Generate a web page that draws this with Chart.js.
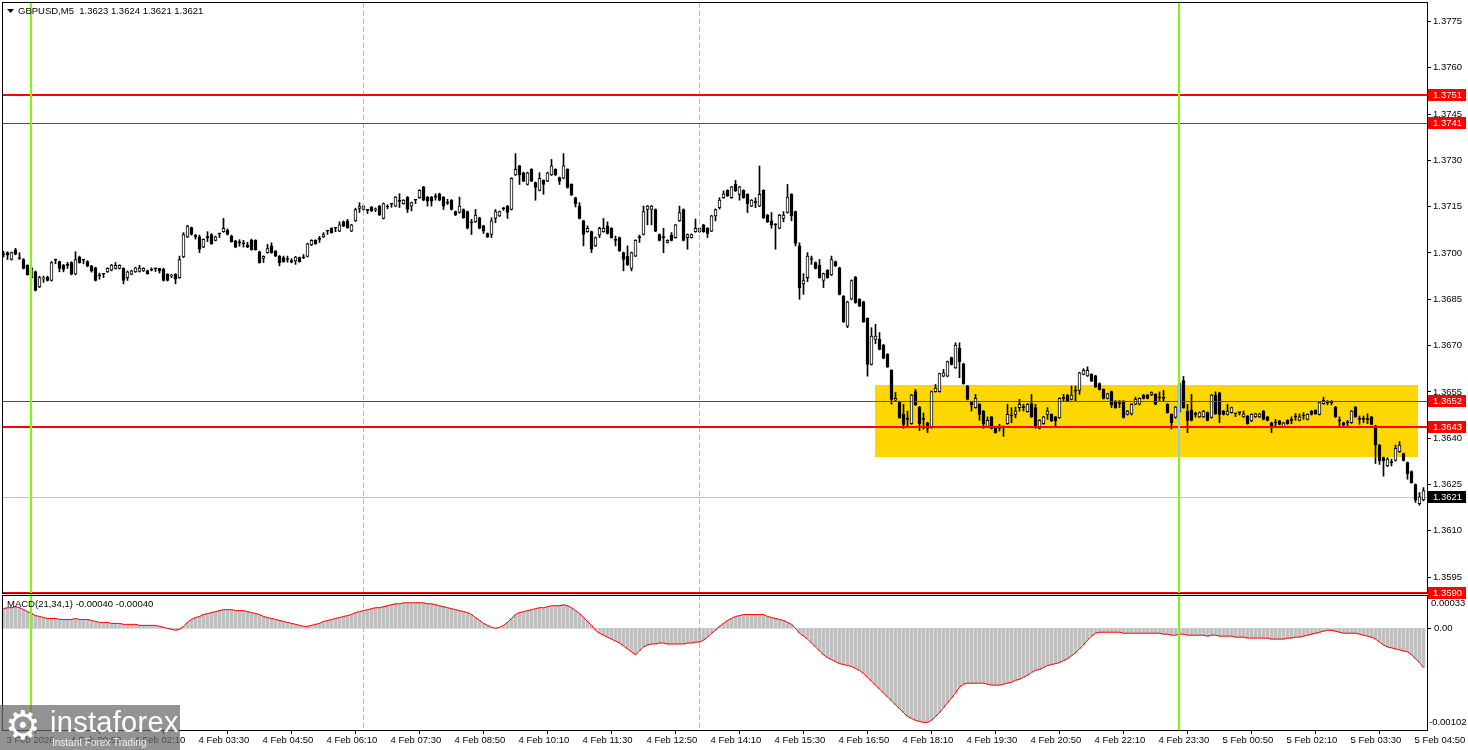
<!DOCTYPE html>
<html>
<head>
<meta charset="utf-8">
<script src="https://cdn.jsdelivr.net/npm/chart.js@4.4.1/dist/chart.umd.min.js"></script>
<style>
  html, body { margin: 0; padding: 0; background: #fff; }
  #wrap { position: relative; width: 1468px; height: 750px; overflow: hidden; }
  #logo { position: absolute; left: 0; top: 705px; width: 180px; height: 45px; background: rgba(105,105,105,0.72); color: #fff; font-family: 'Liberation Sans', Arial, sans-serif; }
  #logo .gear { position: absolute; left: 5px; top: -4px; font-family: 'DejaVu Sans', sans-serif; font-size: 40px; line-height: 48px; }
  #logo .name { position: absolute; left: 50px; top: 1px; font-size: 29px; line-height: 32px; letter-spacing: 0.3px; }
  #logo .sub { position: absolute; left: 52px; top: 32px; font-size: 10px; line-height: 12px; color: #eee; }
</style>
</head>
<body>
<div id="wrap">
  <canvas id="chart" width="1468" height="750"></canvas>
  <div id="logo"><span class="gear">⚙</span><span class="name">instaforex</span><span class="sub">Instant Forex Trading</span></div>
</div>
<script>
// GBPUSD M5, one row per candle: open, high, low, close
const candles = [
  [1.36997,1.37006,1.36987,1.36995],[1.37001,1.37004,1.36979,1.36993],[1.36979,1.37003,1.36977,1.37001],[1.37010,1.37015,1.36994,1.36996],[1.36985,1.37001,1.36979,1.36982],
  [1.36979,1.36982,1.36948,1.36950],[1.36960,1.36962,1.36928,1.36930],[1.36920,1.36955,1.36918,1.36950],[1.36939,1.36942,1.36877,1.36879],[1.36890,1.36925,1.36888,1.36920],
  [1.36916,1.36925,1.36905,1.36917],[1.36922,1.36925,1.36909,1.36911],[1.36911,1.36972,1.36909,1.36969],[1.36979,1.36980,1.36965,1.36977],[1.36972,1.36974,1.36939,1.36950],
  [1.36961,1.36963,1.36939,1.36947],[1.36960,1.36970,1.36950,1.36960],[1.36969,1.36972,1.36929,1.36931],[1.36931,1.37004,1.36929,1.36979],[1.36987,1.36990,1.36967,1.36969],
  [1.36977,1.36978,1.36965,1.36977],[1.36972,1.36975,1.36955,1.36958],[1.36958,1.36960,1.36938,1.36942],[1.36952,1.36954,1.36909,1.36911],[1.36926,1.36935,1.36915,1.36926],
  [1.36931,1.36932,1.36920,1.36931],[1.36939,1.36952,1.36937,1.36950],[1.36944,1.36963,1.36942,1.36961],[1.36950,1.36969,1.36948,1.36960],[1.36950,1.36962,1.36948,1.36960],
  [1.36950,1.36952,1.36900,1.36911],[1.36920,1.36942,1.36911,1.36939],[1.36931,1.36944,1.36929,1.36942],[1.36939,1.36954,1.36937,1.36952],[1.36940,1.36960,1.36938,1.36951],
  [1.36942,1.36952,1.36940,1.36950],[1.36942,1.36945,1.36931,1.36933],[1.36945,1.36952,1.36942,1.36944],[1.36950,1.36951,1.36940,1.36949],[1.36950,1.36951,1.36935,1.36942],
  [1.36947,1.36951,1.36909,1.36911],[1.36931,1.36933,1.36909,1.36911],[1.36925,1.36931,1.36920,1.36926],[1.36931,1.36933,1.36900,1.36915],[1.36920,1.36990,1.36918,1.36979],
  [1.36987,1.37066,1.36985,1.37060],[1.37052,1.37090,1.37050,1.37087],[1.37082,1.37084,1.37058,1.37060],[1.37055,1.37060,1.37045,1.37053],[1.37052,1.37058,1.37001,1.37012],
  [1.37019,1.37046,1.37017,1.37044],[1.37050,1.37069,1.37037,1.37050],[1.37060,1.37063,1.37028,1.37030],[1.37041,1.37055,1.37039,1.37052],[1.37062,1.37063,1.37050,1.37062],
  [1.37069,1.37112,1.37067,1.37080],[1.37073,1.37078,1.37058,1.37060],[1.37055,1.37058,1.37035,1.37037],[1.37039,1.37041,1.37017,1.37019],[1.37033,1.37043,1.37022,1.37033],
  [1.37030,1.37041,1.37019,1.37030],[1.37026,1.37035,1.37017,1.37019],[1.37041,1.37045,1.37009,1.37011],[1.37041,1.37043,1.37009,1.37011],[1.37004,1.37006,1.36967,1.36969],
  [1.36982,1.36991,1.36969,1.36989],[1.37001,1.37028,1.36999,1.37014],[1.37023,1.37033,1.36999,1.37001],[1.37006,1.37008,1.36988,1.36990],[1.36990,1.36992,1.36958,1.36969],
  [1.36985,1.36990,1.36970,1.36972],[1.36979,1.36990,1.36970,1.36979],[1.36975,1.36982,1.36968,1.36970],[1.36974,1.36989,1.36963,1.36987],[1.36985,1.36987,1.36970,1.36972],
  [1.36985,1.36995,1.36982,1.36984],[1.36989,1.37032,1.36987,1.37030],[1.37026,1.37043,1.37024,1.37041],[1.37041,1.37043,1.37028,1.37030],[1.37044,1.37054,1.37034,1.37044],
  [1.37052,1.37066,1.37050,1.37060],[1.37071,1.37072,1.37060,1.37071],[1.37080,1.37082,1.37064,1.37066],[1.37080,1.37081,1.37069,1.37080],[1.37071,1.37101,1.37069,1.37091],
  [1.37101,1.37104,1.37085,1.37087],[1.37104,1.37109,1.37080,1.37082],[1.37071,1.37093,1.37069,1.37091],[1.37104,1.37145,1.37102,1.37141],[1.37144,1.37163,1.37131,1.37150],
  [1.37141,1.37154,1.37139,1.37152],[1.37138,1.37139,1.37128,1.37138],[1.37149,1.37151,1.37134,1.37136],[1.37140,1.37146,1.37134,1.37141],[1.37152,1.37154,1.37121,1.37123],
  [1.37112,1.37162,1.37110,1.37160],[1.37149,1.37156,1.37143,1.37149],[1.37158,1.37159,1.37148,1.37158],[1.37152,1.37183,1.37150,1.37181],[1.37169,1.37192,1.37147,1.37167],
  [1.37160,1.37173,1.37158,1.37171],[1.37181,1.37183,1.37131,1.37141],[1.37152,1.37165,1.37136,1.37163],[1.37171,1.37172,1.37160,1.37171],[1.37179,1.37205,1.37177,1.37203],
  [1.37214,1.37216,1.37169,1.37171],[1.37181,1.37183,1.37152,1.37168],[1.37181,1.37183,1.37152,1.37168],[1.37181,1.37192,1.37171,1.37181],[1.37192,1.37194,1.37169,1.37171],
  [1.37181,1.37183,1.37141,1.37152],[1.37163,1.37174,1.37157,1.37161],[1.37171,1.37173,1.37139,1.37141],[1.37134,1.37136,1.37121,1.37123],[1.37131,1.37181,1.37129,1.37152],
  [1.37141,1.37143,1.37112,1.37114],[1.37134,1.37136,1.37078,1.37080],[1.37098,1.37109,1.37060,1.37098],[1.37101,1.37141,1.37099,1.37123],[1.37114,1.37116,1.37078,1.37080],
  [1.37088,1.37090,1.37063,1.37071],[1.37063,1.37065,1.37050,1.37052],[1.37060,1.37114,1.37050,1.37104],[1.37112,1.37141,1.37098,1.37134],[1.37120,1.37136,1.37118,1.37134],
  [1.37143,1.37148,1.37138,1.37143],[1.37152,1.37154,1.37112,1.37131],[1.37141,1.37244,1.37139,1.37242],[1.37253,1.37322,1.37251,1.37271],[1.37282,1.37284,1.37222,1.37253],
  [1.37260,1.37262,1.37231,1.37233],[1.37222,1.37262,1.37220,1.37260],[1.37271,1.37273,1.37231,1.37233],[1.37228,1.37230,1.37171,1.37212],[1.37203,1.37260,1.37201,1.37242],
  [1.37235,1.37237,1.37190,1.37222],[1.37233,1.37262,1.37231,1.37260],[1.37253,1.37303,1.37251,1.37282],[1.37271,1.37273,1.37251,1.37253],[1.37244,1.37246,1.37222,1.37233],
  [1.37242,1.37322,1.37240,1.37282],[1.37271,1.37273,1.37210,1.37212],[1.37222,1.37224,1.37186,1.37188],[1.37179,1.37181,1.37149,1.37160],[1.37152,1.37163,1.37110,1.37112],
  [1.37104,1.37106,1.37023,1.37060],[1.37069,1.37088,1.37067,1.37080],[1.37069,1.37071,1.37001,1.37012],[1.37023,1.37052,1.37021,1.37050],[1.37058,1.37084,1.37050,1.37080],
  [1.37069,1.37112,1.37067,1.37080],[1.37088,1.37101,1.37061,1.37063],[1.37080,1.37082,1.37048,1.37050],[1.37041,1.37055,1.37023,1.37041],[1.37050,1.37052,1.37005,1.37007],
  [1.37001,1.37003,1.36942,1.36979],[1.36990,1.37023,1.36959,1.36961],[1.36950,1.37003,1.36942,1.37001],[1.36990,1.37043,1.36988,1.37041],[1.37050,1.37058,1.37034,1.37050],
  [1.37060,1.37152,1.37058,1.37134],[1.37141,1.37154,1.37091,1.37152],[1.37141,1.37154,1.37091,1.37152],[1.37141,1.37143,1.37069,1.37071],[1.37060,1.37062,1.37039,1.37041],
  [1.37050,1.37080,1.37001,1.37050],[1.37034,1.37043,1.37032,1.37041],[1.37058,1.37066,1.37039,1.37041],[1.37050,1.37093,1.37048,1.37091],[1.37104,1.37152,1.37102,1.37131],
  [1.37141,1.37143,1.37039,1.37041],[1.37050,1.37062,1.37012,1.37060],[1.37050,1.37062,1.37048,1.37060],[1.37069,1.37110,1.37067,1.37080],[1.37069,1.37082,1.37067,1.37080],
  [1.37091,1.37093,1.37067,1.37069],[1.37080,1.37082,1.37050,1.37063],[1.37071,1.37122,1.37069,1.37120],[1.37120,1.37143,1.37104,1.37141],[1.37147,1.37179,1.37142,1.37171],
  [1.37179,1.37201,1.37177,1.37192],[1.37203,1.37205,1.37183,1.37185],[1.37179,1.37216,1.37177,1.37214],[1.37222,1.37235,1.37199,1.37201],[1.37190,1.37216,1.37171,1.37214],
  [1.37203,1.37205,1.37177,1.37179],[1.37190,1.37192,1.37131,1.37160],[1.37152,1.37173,1.37150,1.37171],[1.37163,1.37179,1.37147,1.37163],[1.37152,1.37282,1.37150,1.37190],
  [1.37203,1.37205,1.37112,1.37114],[1.37123,1.37125,1.37099,1.37101],[1.37104,1.37131,1.37080,1.37091],[1.37093,1.37095,1.37012,1.37091],[1.37080,1.37125,1.37078,1.37123],
  [1.37112,1.37134,1.37101,1.37123],[1.37131,1.37222,1.37129,1.37181],[1.37190,1.37192,1.37104,1.37120],[1.37134,1.37136,1.37023,1.37031],[1.37023,1.37033,1.36850,1.36888],
  [1.36900,1.36933,1.36866,1.36911],[1.36920,1.37001,1.36907,1.36990],[1.36979,1.36990,1.36963,1.36979],[1.36969,1.36971,1.36948,1.36950],[1.36961,1.36979,1.36918,1.36920],
  [1.36911,1.36935,1.36888,1.36933],[1.36944,1.36946,1.36918,1.36920],[1.36929,1.36990,1.36927,1.36979],[1.36972,1.36974,1.36956,1.36958],[1.36952,1.36954,1.36864,1.36866],
  [1.36860,1.36862,1.36775,1.36777],[1.36763,1.36844,1.36758,1.36842],[1.36850,1.36913,1.36848,1.36911],[1.36922,1.36924,1.36837,1.36839],[1.36850,1.36852,1.36826,1.36828],
  [1.36842,1.36844,1.36775,1.36777],[1.36788,1.36790,1.36601,1.36639],[1.36639,1.36758,1.36637,1.36731],[1.36720,1.36769,1.36706,1.36731],[1.36720,1.36742,1.36686,1.36688],
  [1.36702,1.36704,1.36657,1.36659],[1.36672,1.36674,1.36629,1.36631],[1.36620,1.36622,1.36510,1.36526],[1.36523,1.36548,1.36521,1.36529],[1.36518,1.36520,1.36464,1.36466],
  [1.36477,1.36510,1.36432,1.36445],[1.36461,1.36488,1.36434,1.36461],[1.36447,1.36542,1.36445,1.36540],[1.36551,1.36558,1.36506,1.36508],[1.36501,1.36503,1.36425,1.36447],
  [1.36461,1.36482,1.36429,1.36461],[1.36450,1.36452,1.36418,1.36432],[1.36434,1.36553,1.36432,1.36551],[1.36551,1.36574,1.36549,1.36562],[1.36551,1.36611,1.36549,1.36609],
  [1.36601,1.36623,1.36599,1.36612],[1.36601,1.36650,1.36599,1.36648],[1.36661,1.36663,1.36637,1.36639],[1.36628,1.36709,1.36626,1.36702],[1.36691,1.36709,1.36596,1.36648],
  [1.36641,1.36643,1.36575,1.36577],[1.36569,1.36571,1.36524,1.36526],[1.36518,1.36520,1.36488,1.36508],[1.36499,1.36542,1.36497,1.36529],[1.36510,1.36512,1.36458,1.36477],
  [1.36488,1.36490,1.36432,1.36447],[1.36436,1.36469,1.36434,1.36458],[1.36469,1.36471,1.36430,1.36432],[1.36432,1.36434,1.36416,1.36418],[1.36432,1.36445,1.36423,1.36432],
  [1.36438,1.36440,1.36406,1.36436],[1.36447,1.36510,1.36445,1.36477],[1.36472,1.36499,1.36450,1.36472],[1.36477,1.36501,1.36466,1.36488],[1.36499,1.36526,1.36488,1.36510],
  [1.36499,1.36510,1.36488,1.36499],[1.36486,1.36512,1.36484,1.36510],[1.36512,1.36542,1.36467,1.36469],[1.36499,1.36510,1.36432,1.36434],[1.36432,1.36460,1.36430,1.36458],
  [1.36447,1.36471,1.36445,1.36469],[1.36477,1.36499,1.36461,1.36488],[1.36477,1.36479,1.36454,1.36456],[1.36469,1.36471,1.36439,1.36456],[1.36466,1.36531,1.36464,1.36529],
  [1.36529,1.36542,1.36520,1.36529],[1.36540,1.36542,1.36518,1.36520],[1.36526,1.36569,1.36524,1.36540],[1.36553,1.36569,1.36520,1.36553],[1.36555,1.36614,1.36542,1.36612],
  [1.36607,1.36625,1.36605,1.36620],[1.36602,1.36631,1.36600,1.36620],[1.36607,1.36609,1.36583,1.36585],[1.36602,1.36604,1.36564,1.36566],[1.36577,1.36579,1.36556,1.36558],
  [1.36558,1.36560,1.36527,1.36529],[1.36529,1.36546,1.36527,1.36544],[1.36551,1.36553,1.36499,1.36508],[1.36520,1.36522,1.36497,1.36499],[1.36512,1.36522,1.36499,1.36512],
  [1.36520,1.36522,1.36465,1.36467],[1.36477,1.36490,1.36475,1.36488],[1.36479,1.36512,1.36475,1.36510],[1.36510,1.36533,1.36508,1.36526],[1.36510,1.36531,1.36508,1.36529],
  [1.36540,1.36542,1.36527,1.36529],[1.36540,1.36542,1.36527,1.36529],[1.36540,1.36550,1.36538,1.36548],[1.36542,1.36544,1.36508,1.36510],[1.36534,1.36550,1.36522,1.36531],
  [1.36529,1.36555,1.36520,1.36529],[1.36510,1.36512,1.36481,1.36483],[1.36477,1.36479,1.36430,1.36450],[1.36467,1.36503,1.36465,1.36501],[1.36486,1.36579,1.36484,1.36577],
  [1.36587,1.36600,1.36497,1.36499],[1.36488,1.36510,1.36418,1.36458],[1.36490,1.36542,1.36456,1.36458],[1.36477,1.36485,1.36468,1.36477],[1.36469,1.36485,1.36467,1.36483],
  [1.36469,1.36490,1.36467,1.36488],[1.36483,1.36485,1.36456,1.36458],[1.36467,1.36542,1.36465,1.36540],[1.36540,1.36550,1.36477,1.36479],[1.36547,1.36549,1.36450,1.36477],
  [1.36488,1.36490,1.36475,1.36477],[1.36477,1.36510,1.36475,1.36488],[1.36483,1.36501,1.36481,1.36499],[1.36479,1.36481,1.36470,1.36479],[1.36483,1.36484,1.36475,1.36483],
  [1.36469,1.36488,1.36467,1.36479],[1.36472,1.36474,1.36445,1.36447],[1.36456,1.36479,1.36454,1.36477],[1.36469,1.36481,1.36467,1.36479],[1.36469,1.36481,1.36467,1.36479],
  [1.36488,1.36490,1.36459,1.36461],[1.36469,1.36471,1.36456,1.36458],[1.36450,1.36452,1.36418,1.36434],[1.36450,1.36461,1.36434,1.36450],[1.36456,1.36458,1.36443,1.36445],
  [1.36436,1.36452,1.36434,1.36450],[1.36458,1.36460,1.36445,1.36447],[1.36458,1.36469,1.36447,1.36458],[1.36469,1.36480,1.36458,1.36469],[1.36458,1.36479,1.36456,1.36469],
  [1.36472,1.36483,1.36461,1.36472],[1.36461,1.36479,1.36459,1.36477],[1.36488,1.36490,1.36475,1.36477],[1.36490,1.36492,1.36477,1.36479],[1.36477,1.36517,1.36475,1.36515],
  [1.36512,1.36533,1.36510,1.36523],[1.36515,1.36522,1.36508,1.36515],[1.36515,1.36522,1.36508,1.36515],[1.36501,1.36503,1.36467,1.36469],[1.36456,1.36469,1.36440,1.36456],
  [1.36450,1.36452,1.36436,1.36443],[1.36450,1.36458,1.36439,1.36450],[1.36450,1.36490,1.36448,1.36488],[1.36501,1.36503,1.36467,1.36469],[1.36461,1.36472,1.36445,1.36461],
  [1.36461,1.36472,1.36450,1.36461],[1.36461,1.36479,1.36447,1.36460],[1.36469,1.36471,1.36443,1.36445],[1.36440,1.36442,1.36318,1.36378],[1.36378,1.36380,1.36315,1.36326],
  [1.36337,1.36339,1.36277,1.36326],[1.36310,1.36337,1.36308,1.36332],[1.36321,1.36332,1.36310,1.36321],[1.36328,1.36378,1.36326,1.36367],[1.36356,1.36389,1.36354,1.36378],
  [1.36350,1.36352,1.36326,1.36328],[1.36321,1.36323,1.36267,1.36285],[1.36292,1.36294,1.36254,1.36256],[1.36250,1.36252,1.36192,1.36199],[1.36188,1.36224,1.36183,1.36210],
  [1.36200,1.36240,1.36197,1.36230]
];

// MACD(21,34,1) histogram, one value per candle (signal = same line)
const macdValues = [
  0.00020,0.00021,0.00021,0.00022,0.00021,0.00019,0.00017,0.00015,0.00013,0.00012,
  0.00011,0.00010,0.00010,0.00010,0.00009,0.00009,0.00009,0.00009,0.00010,0.00009,
  0.00009,0.00009,0.00008,0.00007,0.00006,0.00006,0.00006,0.00005,0.00005,0.00005,
  0.00004,0.00004,0.00004,0.00004,0.00003,0.00003,0.00003,0.00003,0.00003,0.00002,
  0.00001,0.00000,-0.00001,-0.00002,-0.00001,0.00002,0.00006,0.00009,0.00011,0.00012,
  0.00014,0.00015,0.00016,0.00017,0.00018,0.00019,0.00019,0.00019,0.00018,0.00018,
  0.00018,0.00017,0.00016,0.00015,0.00014,0.00012,0.00011,0.00010,0.00009,0.00008,
  0.00007,0.00006,0.00005,0.00004,0.00003,0.00002,0.00002,0.00003,0.00004,0.00005,
  0.00007,0.00008,0.00009,0.00010,0.00011,0.00012,0.00013,0.00014,0.00016,0.00017,
  0.00018,0.00019,0.00020,0.00021,0.00021,0.00022,0.00023,0.00024,0.00025,0.00025,
  0.00026,0.00026,0.00026,0.00026,0.00026,0.00026,0.00025,0.00025,0.00024,0.00023,
  0.00022,0.00021,0.00020,0.00019,0.00018,0.00017,0.00016,0.00014,0.00011,0.00008,
  0.00005,0.00003,0.00001,0.00000,0.00001,0.00003,0.00006,0.00010,0.00014,0.00016,
  0.00017,0.00018,0.00019,0.00020,0.00021,0.00021,0.00022,0.00023,0.00023,0.00023,
  0.00024,0.00023,0.00021,0.00018,0.00015,0.00011,0.00007,0.00003,-0.00002,-0.00005,
  -0.00007,-0.00009,-0.00011,-0.00013,-0.00015,-0.00018,-0.00021,-0.00024,-0.00027,-0.00023,
  -0.00019,-0.00017,-0.00016,-0.00016,-0.00015,-0.00015,-0.00016,-0.00016,-0.00016,-0.00016,
  -0.00016,-0.00015,-0.00015,-0.00014,-0.00014,-0.00012,-0.00009,-0.00005,-0.00002,0.00002,
  0.00005,0.00008,0.00010,0.00012,0.00013,0.00014,0.00014,0.00014,0.00014,0.00014,
  0.00014,0.00012,0.00011,0.00010,0.00009,0.00008,0.00006,0.00004,0.00000,-0.00005,
  -0.00008,-0.00011,-0.00015,-0.00019,-0.00023,-0.00027,-0.00030,-0.00032,-0.00034,-0.00036,
  -0.00037,-0.00038,-0.00039,-0.00041,-0.00043,-0.00046,-0.00050,-0.00054,-0.00058,-0.00062,
  -0.00066,-0.00070,-0.00074,-0.00078,-0.00082,-0.00086,-0.00090,-0.00092,-0.00094,-0.00095,
  -0.00096,-0.00096,-0.00094,-0.00090,-0.00086,-0.00081,-0.00076,-0.00071,-0.00066,-0.00060,
  -0.00057,-0.00056,-0.00056,-0.00056,-0.00056,-0.00056,-0.00057,-0.00058,-0.00058,-0.00058,
  -0.00057,-0.00056,-0.00055,-0.00053,-0.00052,-0.00050,-0.00048,-0.00045,-0.00043,-0.00042,
  -0.00040,-0.00038,-0.00037,-0.00036,-0.00035,-0.00033,-0.00031,-0.00028,-0.00025,-0.00021,
  -0.00017,-0.00012,-0.00008,-0.00005,-0.00004,-0.00004,-0.00004,-0.00004,-0.00004,-0.00004,
  -0.00005,-0.00005,-0.00005,-0.00005,-0.00005,-0.00005,-0.00005,-0.00005,-0.00005,-0.00005,
  -0.00006,-0.00006,-0.00007,-0.00007,-0.00006,-0.00006,-0.00007,-0.00007,-0.00007,-0.00007,
  -0.00007,-0.00008,-0.00007,-0.00007,-0.00008,-0.00008,-0.00008,-0.00008,-0.00009,-0.00009,
  -0.00009,-0.00010,-0.00010,-0.00010,-0.00010,-0.00010,-0.00010,-0.00011,-0.00011,-0.00011,
  -0.00011,-0.00010,-0.00010,-0.00009,-0.00009,-0.00008,-0.00007,-0.00006,-0.00005,-0.00004,
  -0.00003,-0.00002,-0.00002,-0.00003,-0.00004,-0.00005,-0.00005,-0.00005,-0.00005,-0.00006,
  -0.00007,-0.00008,-0.00009,-0.00011,-0.00014,-0.00017,-0.00019,-0.00020,-0.00021,-0.00022,
  -0.00023,-0.00024,-0.00027,-0.00031,-0.00035,-0.00040
];

// time axis: one label every 16 candles (80 minutes)
const timeLabels = [
  '3 Feb 2026','4 Feb 00:50','4 Feb 02:10','4 Feb 03:30','4 Feb 04:50','4 Feb 06:10',
  '4 Feb 07:30','4 Feb 08:50','4 Feb 10:10','4 Feb 11:30','4 Feb 12:50','4 Feb 14:10',
  '4 Feb 15:30','4 Feb 16:50','4 Feb 18:10','4 Feb 19:30','4 Feb 20:50','4 Feb 22:10',
  '4 Feb 23:30','5 Feb 00:50','5 Feb 02:10','5 Feb 03:30','5 Feb 04:50'
];
const labelStep = 16;

const priceTicks = [1.3595,1.3610,1.3625,1.3640,1.3655,1.3670,1.3685,1.3700,1.3715,1.3730,1.3745,1.3760,1.3775];

// horizontal levels (red): price, label shown on the axis, line width
const levelPrices = [1.37512, 1.37420, 1.36520, 1.36435, 1.35900];
const levelLabels = ['1.3751', '1.3741', '1.3652', '1.3643', '1.3590'];
const levelWidths = [2, 1, 1, 2, 2];
const lastPrice = 1.3621;

// yellow zone: price range and candle range
const zonePrices = [1.365724, 1.363392];
const zoneCandles = [217.9, 353.7];

// vertical markers (candle positions)
const dayLines = [6.875, 293.875];
const sessionLines = [89.875, 173.875];

const FONT = "'Liberation Sans', Arial, sans-serif";
Chart.defaults.font.family = FONT;
Chart.defaults.font.size = 9.5;
Chart.defaults.color = '#000';

const wickData = candles.map((c, i) => ({ x: i, y: [c[2], c[1]] }));
const bodyData = candles.map((c, i) => ({ x: i, y: [c[0], c[3]] }));
const bodyColors = candles.map(c => c[3] > c[0] ? '#ffffff' : '#000000');
const macdData = macdValues.map((v, i) => ({ x: i, y: v }));

function axisBox(ctx, yy, text, color) {
  ctx.fillStyle = color;
  ctx.fillRect(1428, Math.round(yy) - 6, 38, 12);
  ctx.fillStyle = '#fff';
  ctx.textBaseline = 'middle';
  ctx.textAlign = 'left';
  ctx.fillText(text, 1433, Math.round(yy) + 0.5);
}

function noPad(s) {
  s.paddingTop = 0;
  s.paddingBottom = 0;
  s.paddingLeft = 0;
  s.paddingRight = 0;
}

const mtOverlay = {
  id: 'mtOverlay',
  beforeDraw(chart) {
    const ctx = chart.ctx;
    ctx.save();
    ctx.fillStyle = '#fff';
    ctx.fillRect(0, 0, chart.width, chart.height);
    ctx.restore();
  },
  beforeDatasetsDraw(chart) {
    const { ctx, scales: { x, y } } = chart;
    ctx.save();
    // support / resistance zone
    const zx0 = x.getPixelForValue(zoneCandles[0]);
    const zx1 = x.getPixelForValue(zoneCandles[1]);
    const zy0 = y.getPixelForValue(zonePrices[0]);
    const zy1 = y.getPixelForValue(zonePrices[1]);
    ctx.fillStyle = '#ffd700';
    ctx.fillRect(Math.round(zx0), Math.round(zy0), Math.round(zx1 - zx0), Math.round(zy1 - zy0));
    // current price line
    const py = Math.round(y.getPixelForValue(lastPrice)) + 0.5;
    ctx.strokeStyle = '#c0c0c0';
    ctx.lineWidth = 1;
    ctx.beginPath();
    ctx.moveTo(3, py);
    ctx.lineTo(1427, py);
    ctx.stroke();
    ctx.restore();
  },
  afterDatasetsDraw(chart) {
    const { ctx, scales: { x, y } } = chart;
    ctx.save();
    // dashed session separators, across both panes
    ctx.strokeStyle = '#7cfc00';
    ctx.lineWidth = 1;
    ctx.setLineDash([5, 3]);
    sessionLines.forEach(v => {
      const px = Math.round(x.getPixelForValue(v)) + 0.5;
      ctx.beginPath();
      ctx.moveTo(px, 3);
      ctx.lineTo(px, 730);
      ctx.stroke();
    });
    ctx.setLineDash([]);
    // red levels
    ctx.strokeStyle = '#ff0000';
    levelPrices.forEach((p, k) => {
      const w = levelWidths[k];
      const py = Math.round(y.getPixelForValue(p)) + (w === 1 ? 0.5 : 0);
      ctx.lineWidth = w;
      ctx.beginPath();
      ctx.moveTo(3, py);
      ctx.lineTo(1427, py);
      ctx.stroke();
    });
    // green day lines
    const zy0 = Math.round(y.getPixelForValue(zonePrices[0]));
    const zy1 = Math.round(y.getPixelForValue(zonePrices[1]));
    const zx0 = x.getPixelForValue(zoneCandles[0]);
    const zx1 = x.getPixelForValue(zoneCandles[1]);
    dayLines.forEach(v => {
      const px = Math.round(x.getPixelForValue(v));
      ctx.fillStyle = '#7cfc00';
      ctx.fillRect(px - 1, 3, 2, 727);
      if (px > zx0 && px < zx1) {
        ctx.fillStyle = '#87cefa';
        ctx.fillRect(px - 1, zy0, 2, zy1 - zy0);
      }
    });
    ctx.restore();
  },
  afterDraw(chart) {
    const { ctx, scales: { y } } = chart;
    ctx.save();
    ctx.font = '9.5px ' + FONT;
    // pane borders
    ctx.strokeStyle = '#000';
    ctx.lineWidth = 1;
    ctx.strokeRect(2.5, 2.5, 1425, 591);
    ctx.strokeRect(2.5, 595.5, 1425, 135);
    // level boxes on price axis
    levelPrices.forEach((p, k) => axisBox(ctx, y.getPixelForValue(p), levelLabels[k], '#ff0000'));
    axisBox(ctx, y.getPixelForValue(lastPrice), lastPrice.toFixed(4), '#000000');
    // MACD pane scale labels
    ctx.fillStyle = '#000';
    ctx.textBaseline = 'middle';
    ctx.textAlign = 'left';
    ctx.fillText('0.00033', 1431, 603);
    ctx.fillText('0.00', 1434, 628.5);
    ctx.fillText('-0.00102', 1429, 722.5);
    ctx.beginPath();
    ctx.moveTo(1428, 628.5); ctx.lineTo(1431, 628.5);
    ctx.stroke();
    // symbol title
    ctx.beginPath();
    ctx.moveTo(7, 9); ctx.lineTo(14, 9); ctx.lineTo(10.5, 13); ctx.closePath();
    ctx.fill();
    ctx.fillText('GBPUSD,M5  1.3623 1.3624 1.3621 1.3621', 18, 11.5);
    ctx.fillText('MACD(21,34,1) -0.00040 -0.00040', 7, 604.5);
    ctx.restore();
  }
};

new Chart(document.getElementById('chart'), {
  type: 'bar',
  data: {
    datasets: [
      { type: 'line', data: macdData, yAxisID: 'y2', borderColor: '#ff0000', borderWidth: 1, pointRadius: 0, tension: 0, order: 0 },
      { type: 'bar', data: macdData, yAxisID: 'y2', backgroundColor: '#c0c0c0', barThickness: 3, grouped: false, order: 1 },
      { type: 'bar', data: bodyData, yAxisID: 'y', backgroundColor: bodyColors, borderColor: '#000', borderWidth: 1, borderSkipped: false, barThickness: 3, minBarLength: 1, grouped: false, order: 2 },
      { type: 'bar', data: wickData, yAxisID: 'y', backgroundColor: '#000', borderWidth: 0, barThickness: 1, grouped: false, order: 3 }
    ]
  },
  options: {
    responsive: false,
    animation: false,
    devicePixelRatio: 1,
    layout: { padding: { top: 3, left: 1, right: 0, bottom: 0 } },
    plugins: { legend: { display: false }, tooltip: { enabled: false } },
    scales: {
      x: {
        type: 'linear',
        min: -0.625,
        max: 355.875,
        offset: false,
        afterBuildTicks: s => { s.ticks = timeLabels.map((t, k) => ({ value: k * labelStep })); },
        afterFit: s => { s.height = 20; noPad(s); },
        ticks: { autoSkip: false, maxRotation: 0, align: 'start', labelOffset: 3, padding: 1, callback: (v, k) => timeLabels[k] },
        grid: { drawOnChartArea: false, drawTicks: true, tickLength: 4, color: '#000' },
        border: { display: false }
      },
      y: {
        type: 'linear',
        position: 'right',
        stack: 'panes',
        stackWeight: 591,
        min: 1.358953,
        max: 1.378098,
        afterBuildTicks: s => { s.ticks = priceTicks.map(v => ({ value: v })); },
        afterFit: s => { s.width = 41; noPad(s); },
        ticks: { padding: 2, callback: v => v.toFixed(4) },
        grid: { drawOnChartArea: false, tickLength: 4, color: '#000' },
        border: { display: false }
      },
      y2: {
        type: 'linear',
        position: 'right',
        stack: 'panes',
        stackWeight: 136,
        min: -0.001038,
        max: 0.00035,
        afterFit: s => { s.width = 41; noPad(s); },
        ticks: { display: false },
        grid: { display: false },
        border: { display: false }
      }
    }
  },
  plugins: [mtOverlay]
});
</script>
</body>
</html>
